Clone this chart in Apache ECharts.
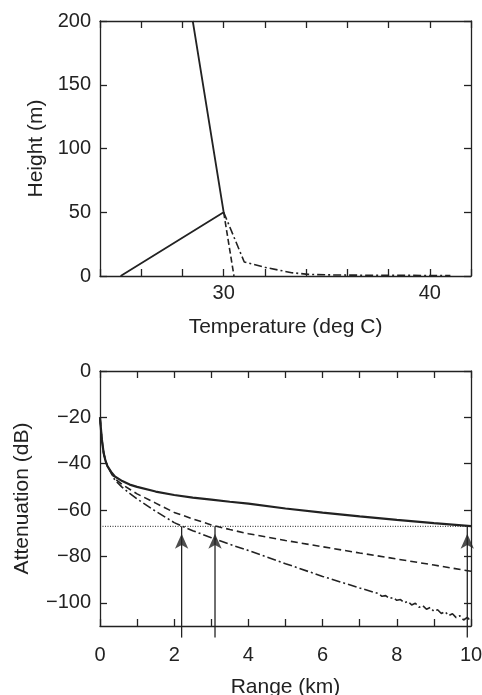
<!DOCTYPE html>
<html>
<head>
<meta charset="utf-8">
<script src="https://cdn.jsdelivr.net/npm/echarts@6/dist/echarts.min.js"></script>
<style>
html,body{margin:0;padding:0;background:#fff;}
#chart{width:482px;height:695px;}
</style>
</head>
<body>
<div id="chart"></div>
<script>
// ---- top panel: temperature profiles ----
const profileSolidT = [25, 30, 28.5];
const profileSolidH = [0, 50, 200];
const profileDashedT = [30, 30.5];
const profileDashedH = [50, 0];
const profileDashDotT = [30, 31, 32, 33.3, 34.1, 35, 36, 38, 41];
const profileDashDotH = [50, 11, 6.8, 2.6, 1.3, 0.9, 0.7, 0.5, 0.4];
const tempLabels = [30, 40];
const heightTicks = [0, 50, 100, 150, 200];

// ---- bottom panel: attenuation vs range ----
const rangeKm = [0, 0.02, 0.05, 0.1, 0.15, 0.2, 0.3, 0.4, 0.6, 0.8, 1, 1.5, 2, 2.5, 3, 3.5, 4, 5, 6, 7, 8, 9, 10];
const attSolid = [-20, -24, -29.5, -35.5, -38.8, -41, -43.5, -45.5, -47.5, -49, -50, -52, -53.5, -54.6, -55.5, -56.4, -57.2, -59.3, -61.1, -62.7, -64.2, -65.6, -66.9];
const attDashed = [-20, -24, -29.5, -35.5, -38.8, -41, -43.7, -46.5, -49, -51, -53, -57, -61, -63.8, -66.4, -68.4, -70.2, -73.1, -75.8, -78.5, -81.1, -83.7, -86.4];
const rangeKmDashDot = [0, 0.02, 0.05, 0.1, 0.15, 0.2, 0.3, 0.4, 0.6, 0.8, 1, 1.5, 2, 2.5, 3, 3.5, 4, 5, 6, 7,
  7.5, 7.6, 7.7, 7.8, 7.9, 8.0, 8.1, 8.2, 8.3, 8.4, 8.5, 8.6, 8.7, 8.8, 8.9, 9.0, 9.1, 9.2, 9.3, 9.4, 9.5, 9.6, 9.7, 9.8, 9.9, 10];
const attDashDot = [-20, -24, -29.5, -35.5, -38.8, -41, -44, -47, -50.2, -52.8, -55.2, -60.5, -65.4, -68.9, -71.9, -74.8, -77.4, -83.1, -88.6, -93.6,
  -96.0, -97.2, -96.9, -98.2, -97.7, -98.9, -98.6, -100.0, -99.4, -100.9, -100.2, -101.9, -101.2, -102.8, -102.0, -103.7, -103.0, -104.6, -103.8, -105.5, -104.7, -106.4, -105.6, -107.4, -106.3, -108.0];
const threshold = -67;
const arrowX = [2.2, 3.1, 9.9];
const arrowBase = -115;
const attTicks = [0, -20, -40, -60, -80, -100];

const INK = '#222';
const FONT = '"Liberation Sans", Arial, sans-serif';
const zip = (xs, ys) => xs.map((x, i) => [x, ys[i]]);
const fmtMinus = v => (v < 0 ? '\u2212' + Math.abs(v) : String(v));

const axLine = () => ({ show: true, onZero: false, lineStyle: { color: INK, width: 1.3 } });
const tickIn = (extra) => Object.assign({ show: true, inside: true, length: 7, lineStyle: { color: INK, width: 1.3 } }, extra || {});
const lbl = (extra) => Object.assign({ color: INK, fontSize: 20, fontFamily: FONT }, extra || {});
const nameSty = { color: INK, fontSize: 21, fontFamily: FONT };

const option = {
  animation: false,
  backgroundColor: '#fff',
  grid: [
    { left: 100, top: 21, width: 371, height: 255, containLabel: false, outerBoundsMode: 'none' },
    { left: 100, top: 371, width: 371, height: 255, containLabel: false, outerBoundsMode: 'none' }
  ],
  xAxis: [
    { type: 'value', gridIndex: 0, min: 24, max: 42, interval: 2, position: 'bottom',
      axisLine: axLine(), axisTick: tickIn(), splitLine: { show: false },
      axisLabel: lbl({ margin: 7, formatter: v => (tempLabels.includes(v) ? String(v) : '') }),
      name: 'Temperature (deg C)', nameLocation: 'middle', nameGap: 41, nameTextStyle: nameSty },
    { type: 'value', gridIndex: 0, min: 24, max: 42, interval: 2, position: 'top',
      axisLine: axLine(), axisTick: tickIn(), axisLabel: { show: false }, splitLine: { show: false } },
    { type: 'value', gridIndex: 1, min: 0, max: 10, interval: 1, position: 'bottom',
      axisLine: axLine(), axisTick: tickIn(), splitLine: { show: false },
      axisLabel: lbl({ margin: 19, formatter: v => (v % 2 === 0 ? String(v) : '') }),
      name: 'Range (km)', nameLocation: 'middle', nameGap: 51, nameTextStyle: nameSty },
    { type: 'value', gridIndex: 1, min: 0, max: 10, interval: 1, position: 'top',
      axisLine: axLine(), axisTick: tickIn(), axisLabel: { show: false }, splitLine: { show: false } }
  ],
  yAxis: [
    { type: 'value', gridIndex: 0, min: 0, max: 200, interval: 50, position: 'left',
      axisLine: axLine(), axisTick: tickIn(), splitLine: { show: false },
      axisLabel: lbl({ margin: 9 }),
      name: 'Height (m)', nameLocation: 'middle', nameGap: 53, nameTextStyle: nameSty },
    { type: 'value', gridIndex: 0, min: 0, max: 200, interval: 50, position: 'right',
      axisLine: axLine(), axisTick: tickIn(), axisLabel: { show: false }, splitLine: { show: false } },
    { type: 'value', gridIndex: 1, min: -110, max: 0, position: 'left',
      axisLine: axLine(), splitLine: { show: false },
      axisTick: tickIn({ customValues: attTicks }),
      axisLabel: lbl({ margin: 9, customValues: attTicks, formatter: fmtMinus }),
      name: 'Attenuation (dB)', nameLocation: 'middle', nameGap: 67, nameTextStyle: nameSty },
    { type: 'value', gridIndex: 1, min: -110, max: 0, position: 'right',
      axisLine: axLine(), splitLine: { show: false },
      axisTick: tickIn({ customValues: attTicks }),
      axisLabel: { show: false } }
  ],
  series: [
    { type: 'line', xAxisIndex: 0, yAxisIndex: 0, data: zip(profileSolidT, profileSolidH),
      showSymbol: false, symbol: 'none', lineStyle: { color: INK, width: 1.8 } },
    { type: 'line', xAxisIndex: 0, yAxisIndex: 0, data: zip(profileDashedT, profileDashedH),
      showSymbol: false, symbol: 'none', lineStyle: { color: INK, width: 1.6, type: [6, 3] } },
    { type: 'line', xAxisIndex: 0, yAxisIndex: 0, data: zip(profileDashDotT, profileDashDotH),
      showSymbol: false, symbol: 'none', lineStyle: { color: INK, width: 1.6, type: [8, 3, 2, 3] } },

    { type: 'line', xAxisIndex: 2, yAxisIndex: 2, data: [[0, threshold], [10, threshold]],
      showSymbol: false, symbol: 'none', lineStyle: { color: INK, width: 1, type: [1, 1.5] } },
    { type: 'line', xAxisIndex: 2, yAxisIndex: 2, data: zip(rangeKm, attSolid),
      showSymbol: false, symbol: 'none', lineStyle: { color: INK, width: 2.2 } },
    { type: 'line', xAxisIndex: 2, yAxisIndex: 2, data: zip(rangeKm, attDashed),
      showSymbol: false, symbol: 'none', lineStyle: { color: INK, width: 1.6, type: [7, 4] } },
    { type: 'line', xAxisIndex: 2, yAxisIndex: 2, data: zip(rangeKmDashDot, attDashDot),
      showSymbol: false, symbol: 'none', lineStyle: { color: INK, width: 1.6, type: [9, 3, 2, 3] } }
  ].concat(arrowX.map(x => ({
    type: 'line', xAxisIndex: 2, yAxisIndex: 2, clip: false,
    data: [[x, arrowBase], [x, threshold]],
    showSymbol: false, symbol: 'none', lineStyle: { color: INK, width: 1.3 }
  }))).concat([{
    type: 'scatter', xAxisIndex: 2, yAxisIndex: 2, clip: false,
    data: arrowX.map(x => [x, threshold]),
    symbol: 'arrow', symbolSize: [10, 15], symbolOffset: [0, '50%'],
    itemStyle: { color: INK }
  }])
};

const chart = echarts.init(document.getElementById('chart'), null, { renderer: 'canvas' });
chart.setOption(option);
</script>
</body>
</html>
